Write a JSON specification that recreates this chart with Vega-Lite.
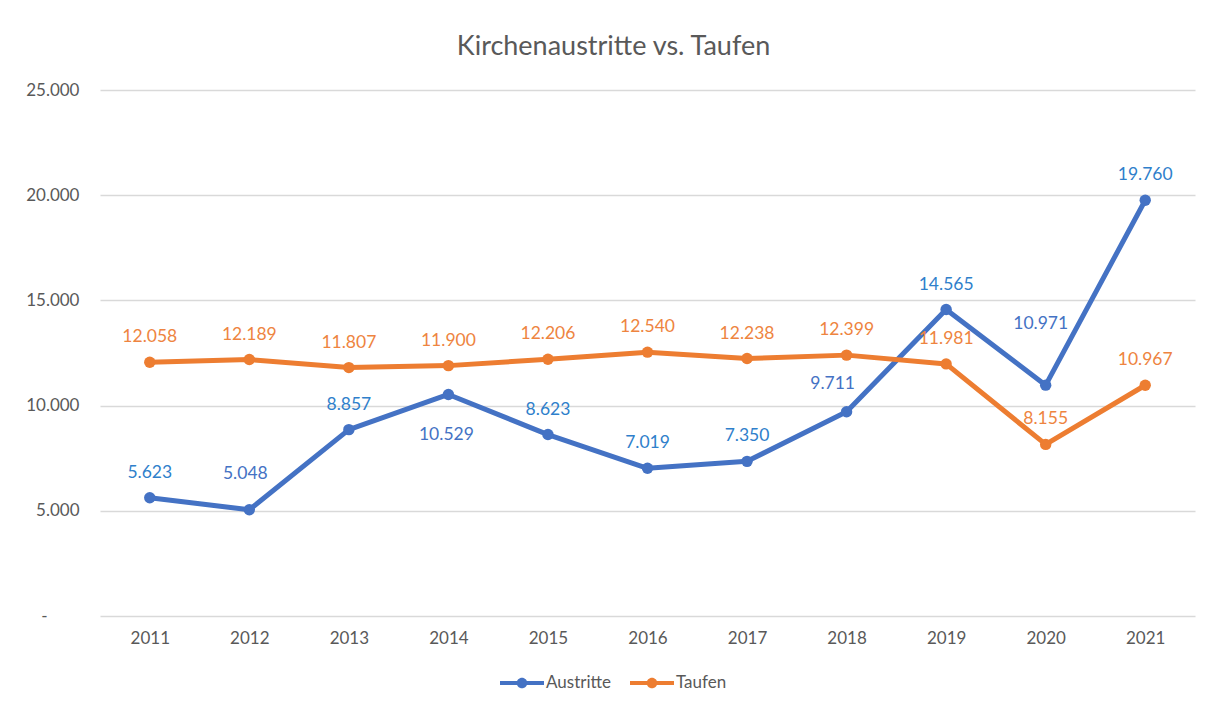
{
  "$schema": "https://vega.github.io/schema/vega-lite/v6.json",
  "width": 1095,
  "height": 526,
  "autosize": {"type": "none"},
  "padding": {"left": 100, "top": 90, "right": 10, "bottom": 91},
  "background": "white",
  "title": {
    "text": "Kirchenaustritte vs. Taufen",
    "font": "Lato",
    "fontSize": 27,
    "fontWeight": "normal",
    "color": "#595959",
    "anchor": "middle",
    "dx": -34,
    "offset": 20
  },
  "config": {
    "locale": {"number": {"decimal": ",", "thousands": ".", "grouping": [3], "currency": ["", " €"]}},
    "view": {"stroke": null},
    "font": "Lato"
  },
  "data": {
    "values": [
      {"year": "2011", "series": "Austritte", "value": 5623},
      {"year": "2012", "series": "Austritte", "value": 5048},
      {"year": "2013", "series": "Austritte", "value": 8857},
      {"year": "2014", "series": "Austritte", "value": 10529},
      {"year": "2015", "series": "Austritte", "value": 8623},
      {"year": "2016", "series": "Austritte", "value": 7019},
      {"year": "2017", "series": "Austritte", "value": 7350},
      {"year": "2018", "series": "Austritte", "value": 9711},
      {"year": "2019", "series": "Austritte", "value": 14565},
      {"year": "2020", "series": "Austritte", "value": 10971},
      {"year": "2021", "series": "Austritte", "value": 19760},
      {"year": "2011", "series": "Taufen", "value": 12058},
      {"year": "2012", "series": "Taufen", "value": 12189},
      {"year": "2013", "series": "Taufen", "value": 11807},
      {"year": "2014", "series": "Taufen", "value": 11900},
      {"year": "2015", "series": "Taufen", "value": 12206},
      {"year": "2016", "series": "Taufen", "value": 12540},
      {"year": "2017", "series": "Taufen", "value": 12238},
      {"year": "2018", "series": "Taufen", "value": 12399},
      {"year": "2019", "series": "Taufen", "value": 11981},
      {"year": "2020", "series": "Taufen", "value": 8155},
      {"year": "2021", "series": "Taufen", "value": 10967}
    ]
  },
  "encoding": {
    "x": {
      "field": "year",
      "type": "ordinal",
      "scale": {"type": "point", "padding": 0.5},
      "axis": {
        "title": null,
        "domain": false,
        "ticks": false,
        "grid": false,
        "labelAngle": 0,
        "labelPadding": 14,
        "labelFont": "Lato",
        "labelFontSize": 17,
        "labelColor": "#595959"
      }
    },
    "y": {
      "field": "value",
      "type": "quantitative",
      "scale": {"domain": [0, 25000], "nice": false, "zero": true},
      "axis": {
        "title": null,
        "domain": false,
        "ticks": false,
        "grid": true,
        "gridColor": "#D9D9D9",
        "gridWidth": 1.3,
        "values": [0, 5000, 10000, 15000, 20000, 25000],
        "format": ",.0f",
        "labelExpr": "datum.value === 0 ? '-' : datum.label",
        "labelPadding": {"condition": {"test": "datum.value === 0", "value": 53}, "value": 21},
        "labelFont": "Lato",
        "labelFontSize": 17,
        "labelColor": "#595959"
      }
    },
    "color": {
      "field": "series",
      "type": "nominal",
      "scale": {"domain": ["Austritte", "Taufen"], "range": ["#4472C4", "#ED7D31"]},
      "legend": {
        "orient": "none",
        "legendX": 400,
        "legendY": 571,
        "direction": "horizontal",
        "title": null,
        "padding": 0,
        "symbolType": "M-1,-0.09L1,-0.09L1,0.09L-1,0.09Z M0,-0.24A0.24,0.24 0 1,1 0,0.24A0.24,0.24 0 1,1 0,-0.24Z",
        "symbolSize": 1936,
        "symbolStrokeWidth": 0,
        "labelFont": "Lato",
        "labelFontSize": 17,
        "labelColor": "#595959",
        "labelOffset": 2,
        "columnPadding": 18,
        "encode": {
          "symbols": {
            "update": {
              "fill": {"scale": "color", "field": "value"},
              "stroke": {"value": "transparent"},
              "strokeWidth": {"value": 0},
              "opacity": {"value": 1}
            }
          }
        }
      }
    }
  },
  "layer": [
    {
      "mark": {"type": "line", "strokeWidth": 5, "strokeJoin": "round", "strokeCap": "round"}
    },
    {
      "mark": {"type": "point", "filled": true, "size": 130, "opacity": 1}
    },
    {
      "transform": [
        {"filter": "!(datum.series === 'Austritte' && indexof(['2012','2014','2018','2020'], datum.year) >= 0)"}
      ],
      "mark": {"type": "text", "fontSize": 17.5, "font": "Lato", "baseline": "middle", "align": "center", "dy": -25},
      "encoding": {
        "text": {"field": "value", "type": "quantitative", "format": ",.0f"},
        "color": {"condition": {"test": "datum.series === 'Austritte'", "value": "#2F7FCB"}, "value": "#EE8440"}
      }
    },
    {
      "transform": [{"filter": "datum.series === 'Austritte' && datum.year === '2012'"}],
      "mark": {"type": "text", "fontSize": 17.5, "font": "Lato", "baseline": "middle", "align": "center", "dy": -36, "dx": -4, "color": "#2F7FCB"},
      "encoding": {"text": {"field": "value", "type": "quantitative", "format": ",.0f"}}
    },
    {
      "transform": [{"filter": "datum.series === 'Austritte' && datum.year === '2014'"}],
      "mark": {"type": "text", "fontSize": 17.5, "font": "Lato", "baseline": "middle", "align": "center", "dy": 41, "dx": -2, "color": "#2F7FCB"},
      "encoding": {"text": {"field": "value", "type": "quantitative", "format": ",.0f"}}
    },
    {
      "transform": [{"filter": "datum.series === 'Austritte' && datum.year === '2018'"}],
      "mark": {"type": "text", "fontSize": 17.5, "font": "Lato", "baseline": "middle", "align": "center", "dy": -28, "dx": -14, "color": "#2F7FCB"},
      "encoding": {"text": {"field": "value", "type": "quantitative", "format": ",.0f"}}
    },
    {
      "transform": [{"filter": "datum.series === 'Austritte' && datum.year === '2020'"}],
      "mark": {"type": "text", "fontSize": 17.5, "font": "Lato", "baseline": "middle", "align": "center", "dy": -61, "dx": -5, "color": "#2F7FCB"},
      "encoding": {"text": {"field": "value", "type": "quantitative", "format": ",.0f"}}
    }
  ]
}
